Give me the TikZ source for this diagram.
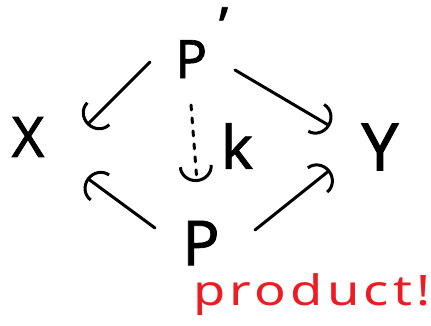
\documentclass[tikz,border=0pt]{standalone}
\usepackage{fontspec}
\setmainfont{Noto Sans}
\newfontfamily\handfont{Noto Sans}[FakeBold=1.2]
\usetikzlibrary{arrows.meta,calc}
\definecolor{ink}{RGB}{0,0,0}
\definecolor{marker}{RGB}{237,28,36}
\begin{document}
\begin{tikzpicture}[x=1pt,y=-1pt,
  obj/.style={inner sep=0pt, text=ink},
  map/.style={line width=3pt, line cap=round, draw=ink,
    -{Arc Barb[length=16pt,width=34pt]}},
  dashedmap/.style={map, dash pattern=on 5pt off 8pt}]
\useasboundingbox (0,0) rectangle (431,325);

% objects of the diagram
\node[obj, font=\handfont\fontsize{56}{56}\selectfont] (X) at (28,137) {X};
\node[obj, font=\handfont\fontsize{66}{66}\selectfont] (Y) at (380,147) {Y};
\node[obj, font=\handfont\fontsize{53}{53}\selectfont, anchor=base west] (Pp) at (175,78)
  {P\kern0.22em\raisebox{0.62em}{’}};
\node[obj, font=\handfont\fontsize{62}{62}\selectfont] (P) at (201,243) {P};
\node[obj, font=\handfont\fontsize{60}{60}\selectfont] (k) at (237,146) {k};

% projections out of P' and P
\draw[map] ($(Pp.base west)+(-25,-16)$) -- ($(X.center)+(59,-12)$);
\draw[map] ($(Pp.base west)+(60,-8)$) -- ($(Y.center)+(-50,-21)$);
\draw[map] ($(P.center)+(-46,-15)$) -- ($(X.center)+(59,41)$);
\draw[map] ($(P.center)+(54,-13)$) -- ($(Y.center)+(-50,23)$);

% the unique map k from P' to P
\draw[dashedmap] ($(Pp.base west)+(16,27)$) -- ($(P.center)+(-4,-61)$);

% note
\node[anchor=base west, inner sep=0pt, text=marker, xscale=1.25,
  font=\fontsize{42}{42}\bfseries\selectfont\addfontfeatures{LetterSpace=8}] (note) at (193,305) {product!};
\end{tikzpicture}
\end{document}
